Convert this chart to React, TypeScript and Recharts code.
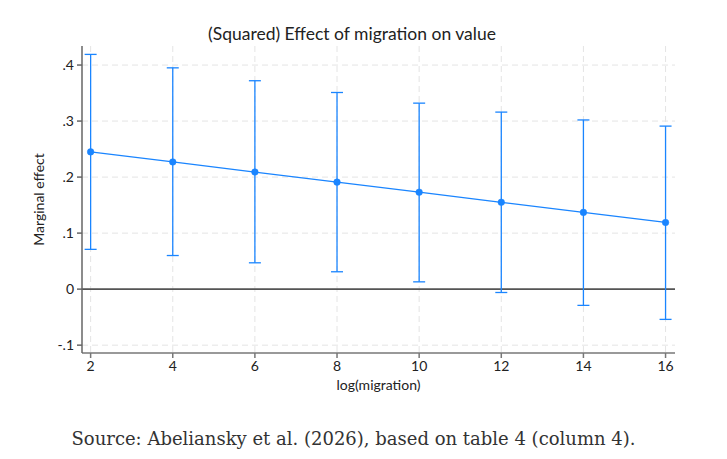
import React from "react";
import {
  ComposedChart,
  Line,
  XAxis,
  YAxis,
  CartesianGrid,
  ReferenceLine,
  ErrorBar,
} from "recharts";

const migration = [2, 4, 6, 8, 10, 12, 14, 16];
const effect = [0.245, 0.227, 0.209, 0.191, 0.173, 0.155, 0.137, 0.119];
const upper = [0.419, 0.395, 0.372, 0.351, 0.332, 0.316, 0.302, 0.291];
const lower = [0.071, 0.06, 0.047, 0.031, 0.013, -0.006, -0.029, -0.054];
const xTicks = [2, 4, 6, 8, 10, 12, 14, 16];
const yTicks = [-0.1, 0, 0.1, 0.2, 0.3, 0.4];

const title = "(Squared) Effect of migration on value";
const xLabel = "log(migration)";
const yLabel = "Marginal effect";
const source = "Source: Abeliansky et al. (2026), based on table 4 (column 4).";

const data = migration.map((x, i) => ({
  x,
  y: effect[i],
  err: [effect[i] - lower[i], upper[i] - effect[i]],
}));

const BLUE = "#1a85ff";
const FONT = "Lato, 'Open Sans', sans-serif";

const fmtY = (v: number) => {
  if (Math.abs(v) < 1e-9) return "0";
  const s = v.toFixed(1);
  return s.replace("0.", ".");
};

export default function App() {
  const W = 727;
  const H = 459;
  const plotLeft = 82;
  const plotRight = 675;
  const plotTop = 46;
  const plotBottom = 353;
  const yAxisW = 50;
  const xAxisH = 30;
  return (
    <div
      style={{
        position: "absolute",
        left: 0,
        top: 0,
        width: W,
        height: H,
        background: "#fff",
        fontFamily: FONT,
      }}
    >
      <ComposedChart
        width={W}
        height={H}
        data={data}
        margin={{
          top: plotTop,
          left: plotLeft - yAxisW,
          right: W - plotRight,
          bottom: H - plotBottom - xAxisH,
        }}
      >
        <CartesianGrid
          stroke="#e4e4e4"
          strokeDasharray="6 4"
          verticalValues={xTicks}
          horizontalValues={yTicks}
        />
        <XAxis
          type="number"
          dataKey="x"
          domain={[1.79, 16.23]}
          ticks={xTicks}
          allowDataOverflow
          height={xAxisH}
          stroke="#777"
          strokeWidth={1.5}
          tickSize={5}
          tickMargin={3}
          tick={{ fill: "#222", fontSize: 14, fontFamily: FONT }}
          tickLine={{ stroke: "#777" }}
        />
        <YAxis
          type="number"
          domain={[-0.114, 0.434]}
          ticks={yTicks}
          allowDataOverflow
          width={yAxisW}
          stroke="#666"
          strokeWidth={1.5}
          tickSize={5}
          tickMargin={3}
          tickFormatter={fmtY}
          tick={{ fill: "#222", fontSize: 14, fontFamily: FONT }}
          tickLine={{ stroke: "#666" }}
        />
        <ReferenceLine y={0} stroke="#555" strokeWidth={1.8} />
        <Line
          type="linear"
          dataKey="y"
          stroke={BLUE}
          strokeWidth={1.3}
          dot={{ r: 3.3, fill: BLUE, stroke: BLUE, strokeWidth: 0.5 }}
          activeDot={false}
          isAnimationActive={false}
        >
          <ErrorBar
            dataKey="err"
            direction="y"
            width={6}
            stroke={BLUE}
            strokeWidth={1.3}
            isAnimationActive={false}
          />
        </Line>
        <text
          x={352}
          y={40}
          textAnchor="middle"
          fontSize={17.5}
          fontFamily={FONT}
          fill="#222"
        >
          {title}
        </text>
        <text
          x={(plotLeft + plotRight) / 2}
          y={390}
          textAnchor="middle"
          fontSize={14}
          fontFamily={FONT}
          fill="#222"
        >
          {xLabel}
        </text>
        <text
          x={44}
          y={(plotTop + plotBottom) / 2}
          textAnchor="middle"
          fontSize={14}
          fontFamily={FONT}
          fill="#222"
          transform={`rotate(-90 44 ${(plotTop + plotBottom) / 2})`}
        >
          {yLabel}
        </text>
      </ComposedChart>
      <div
        style={{
          position: "absolute",
          left: -10,
          width: W,
          top: 428,
          textAlign: "center",
          fontFamily: "'DejaVu Serif', serif",
          fontSize: 18,
          lineHeight: "22px",
          color: "#333",
          whiteSpace: "nowrap",
        }}
      >
        {source}
      </div>
    </div>
  );
}
